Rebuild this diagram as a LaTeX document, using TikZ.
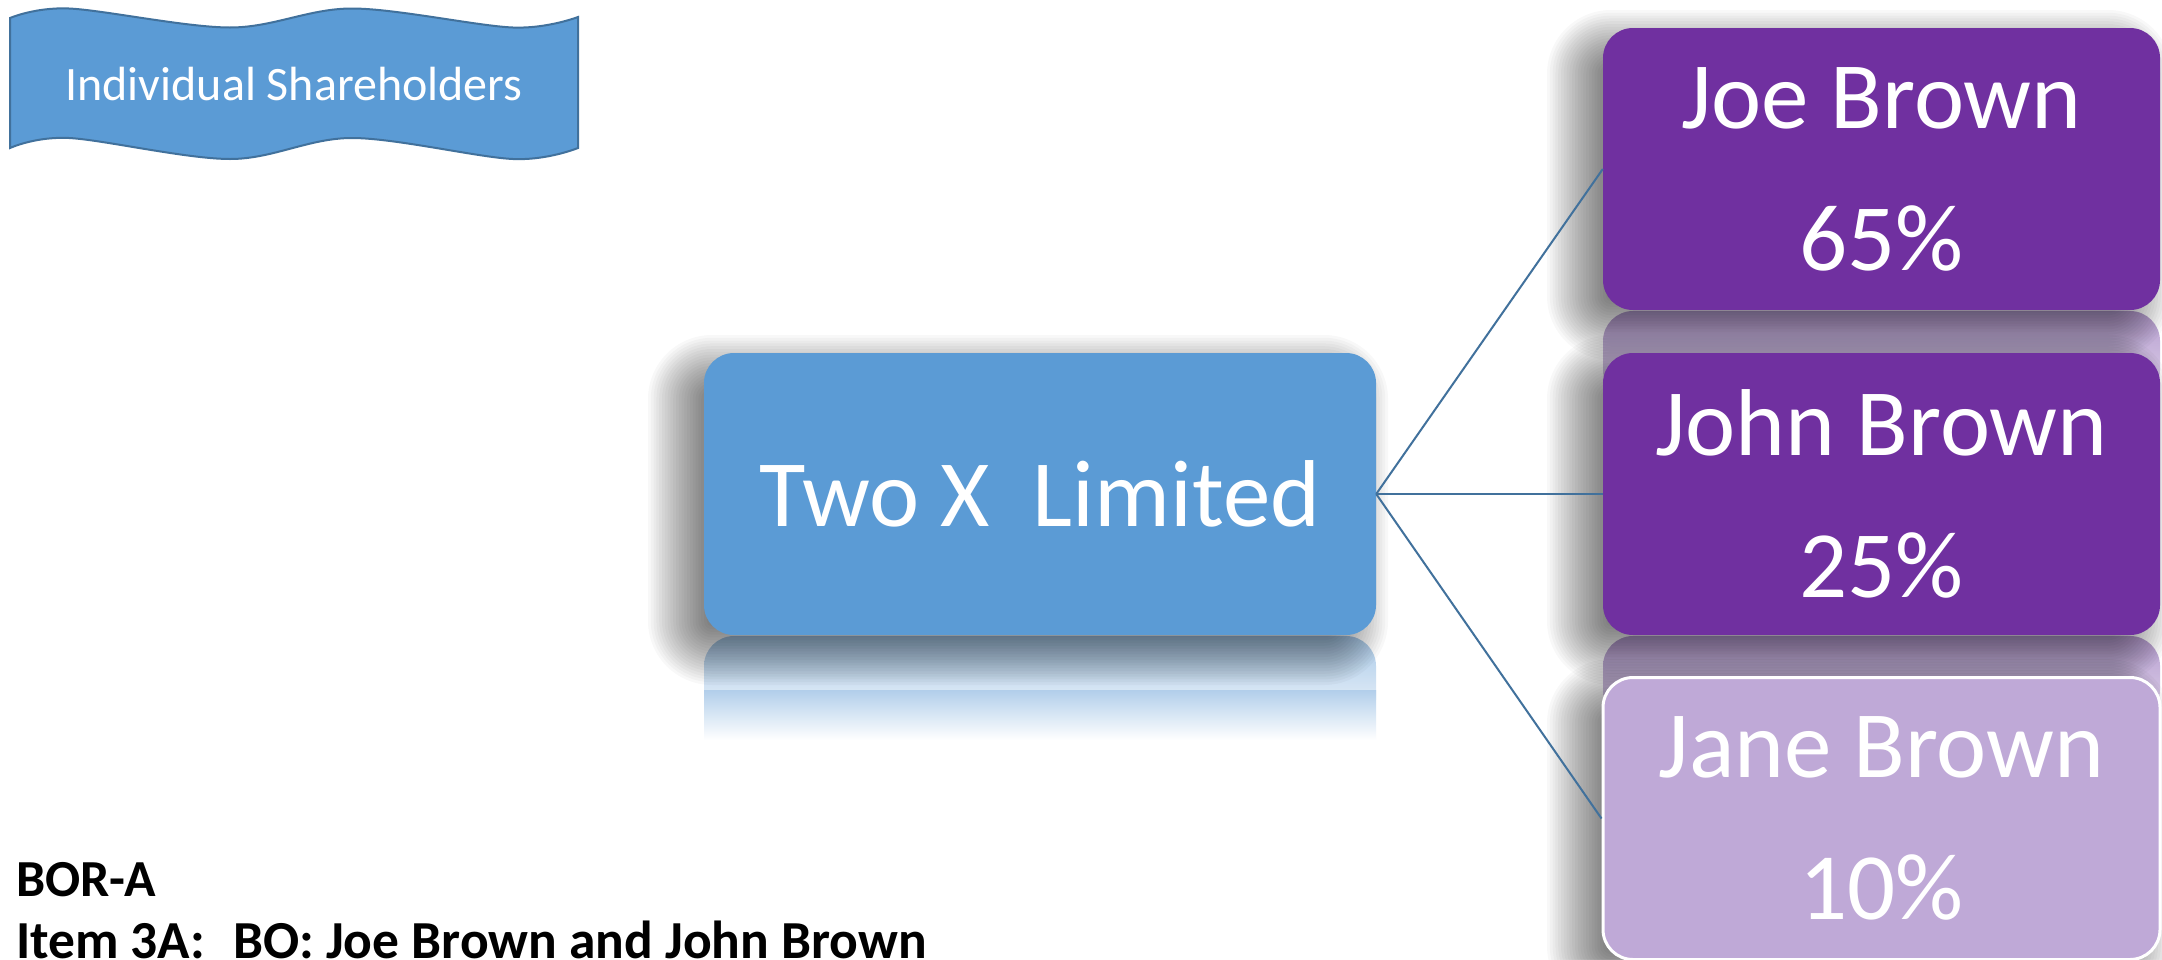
\documentclass[tikz,border=0pt]{standalone}
\usepackage{fontspec}
\setmainfont{Carlito}
\definecolor{boxblue}{HTML}{5B9BD5}
\definecolor{lineblue}{HTML}{41719C}
\definecolor{purp}{HTML}{7030A0}
\definecolor{lpurp}{HTML}{BFA9D7}
\definecolor{reflblue}{HTML}{A9C9E8}
\definecolor{reflpurp}{HTML}{B79ED0}
\newcommand\softshadow[4]{%
  \foreach \i in {0,...,23}{%
    \pgfmathsetmacro\dd{34-2.8*\i}%
    \pgfmathsetmacro\rr{max(2,30+\dd)}%
    \pgfmathsetmacro\ax{#1-22-\dd}%
    \pgfmathsetmacro\ay{#2+16-\dd}%
    \pgfmathsetmacro\bx{#3-22+\dd}%
    \pgfmathsetmacro\by{#4+16+\dd}%
    \fill[black, fill opacity=0.028, rounded corners=\rr pt] (\ax,\ay) rectangle (\bx,\by);
  }}
\begin{document}
\begin{tikzpicture}[x=1pt,y=-1pt,
  bigbox/.style={rounded corners=30pt, minimum width=672pt, minimum height=282pt, inner sep=0pt,
     text=white, align=center, font=\fontsize{95}{142}\selectfont},
  personbox/.style={bigbox, minimum width=557pt},
  conn/.style={draw=lineblue, line width=2pt},
  btext/.style={anchor=base west, inner sep=0pt, font=\fontsize{52}{60}\selectfont\bfseries}
]
\useasboundingbox (0,0) rectangle (2162,959);
\fill[white] (0,0) rectangle (2162,959);

% banner
\draw[fill=boxblue, draw=lineblue, line width=2pt]
  plot[smooth, tension=0.55] coordinates {(10,18) (69,8.5) (230,27.5) (352,8.5) (513,27.5) (578,17)}
  -- plot[smooth, tension=0.55] coordinates {(578,148) (513,159) (352,138) (230,159) (69,138) (10,148)}
  -- cycle;
\node[text=white, font=\fontsize{48}{56}\selectfont, inner sep=0pt] (banner) at (294,84) {Individual Shareholders};

% reflections
\shade[top color=reflblue, bottom color=white, rounded corners=30pt]
  (704,636) -- (704,740) -- (1376,740) -- (1376,636) -- cycle;
\fill[white] (690,700) rectangle (1390,760);
\shade[top color=reflblue!90!white, bottom color=white] (704,690) rectangle (1376,740);
\shade[top color=reflpurp, bottom color=reflpurp!45!white, rounded corners=30pt]
  (1603,311) -- (1603,400) -- (2160,400) -- (2160,311) -- cycle;
\shade[top color=reflpurp, bottom color=reflpurp!45!white, rounded corners=30pt]
  (1603,636) -- (1603,720) -- (2160,720) -- (2160,636) -- cycle;

% shadows
\softshadow{704}{353}{1376}{635}
\softshadow{1603}{28}{2160}{310}
\softshadow{1603}{353}{2160}{635}
\softshadow{1603}{677}{2160}{960}

% boxes
\node[bigbox, fill=boxblue] (two) at (1040,494) {Two X\ \ Limited};
\node[personbox, fill=purp] (joe) at (1881.5,169) {Joe Brown\\65\%};
\node[personbox, fill=purp] (john) at (1881.5,494) {John Brown\\25\%};
\node[personbox, fill=lpurp, draw=white, line width=3pt] (jane) at (1881.5,818.5) {Jane Brown\\10\%};

% connectors
\draw[conn] (two.east) -- (joe.west);
\draw[conn] (two.east) -- (john.west);
\draw[conn] (two.east) -- (jane.west);

% bottom text
\node[btext] (bora) at (16,896) {BOR-A};
\node[btext, font=\fontsize{53.5}{60}\selectfont\bfseries] (item) at (16,958) {Item 3A:\hspace{28pt}BO: Joe Brown and John Brown};
\end{tikzpicture}
\end{document}
